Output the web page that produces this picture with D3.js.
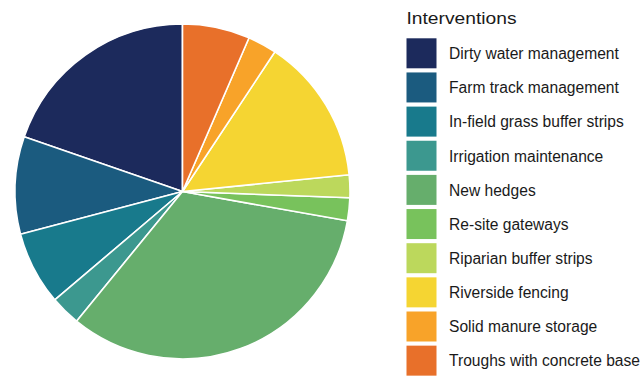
<!DOCTYPE html>
<html>
<head>
<meta charset="utf-8">
<script src="https://cdn.jsdelivr.net/npm/d3@7"></script>
<style>
  html, body { margin: 0; padding: 0; background: #ffffff; }
  svg { display: block; font-family: "Liberation Sans", Arial, Helvetica, sans-serif; }
</style>
</head>
<body>
<svg id="chart" width="642" height="377"></svg>
<script>
// Share of each intervention (%)
const interventions = [
  "Dirty water management",
  "Farm track management",
  "In-field grass buffer strips",
  "Irrigation maintenance",
  "New hedges",
  "Re-site gateways",
  "Riparian buffer strips",
  "Riverside fencing",
  "Solid manure storage",
  "Troughs with concrete base"
];
const shares = [19.7, 9.4, 7.1, 2.9, 33.1, 2.2, 2.2, 14.1, 2.8, 6.5];
const palette = [
  "#1c2a5c", "#1b5b7f", "#187a8c", "#3c988f", "#66ae6c",
  "#78c25c", "#bcd85c", "#f5d532", "#f8a329", "#e8702a"
];
const legendTitle = "Interventions";

const svg = d3.select("#chart");
const data = interventions.map((name, i) => ({ name, value: shares[i], color: palette[i] }));

// Pie: first category starts at 12 o'clock and runs anticlockwise
const cx = 182.5, cy = 191.5, radius = 167.5;
const pie = d3.pie().sort(null).value(d => d.value)
  .startAngle(0).endAngle(-2 * Math.PI);
const arc = d3.arc().innerRadius(0).outerRadius(radius);

svg.append("g")
  .attr("transform", `translate(${cx},${cy})`)
  .selectAll("path")
  .data(pie(data))
  .join("path")
  .attr("d", arc)
  .attr("fill", d => d.data.color)
  .attr("stroke", "#ffffff")
  .attr("stroke-width", 1.6)
  .attr("stroke-linejoin", "round");

// Legend
const legend = svg.append("g").attr("transform", "translate(406.5,0)");
legend.append("text")
  .attr("x", 0).attr("y", 24.3)
  .attr("font-size", 16)
  .attr("textLength", 110)
  .attr("lengthAdjust", "spacingAndGlyphs")
  .attr("fill", "#1a1a1a")
  .text(legendTitle);

const rowY = d3.scaleBand()
  .domain(interventions)
  .range([38.3, 38.3 + 34.15 * interventions.length])
  .paddingInner(0);

const rows = legend.selectAll("g.row")
  .data(data)
  .join("g")
  .attr("class", "row")
  .attr("transform", d => `translate(0,${rowY(d.name)})`);

rows.append("rect")
  .attr("width", 30).attr("height", 30)
  .attr("fill", d => d.color);

rows.append("text")
  .attr("x", 42.5).attr("y", 20.8)
  .attr("font-size", 15.6)
  .attr("fill", "#1a1a1a")
  .text(d => d.name);
</script>
</body>
</html>
